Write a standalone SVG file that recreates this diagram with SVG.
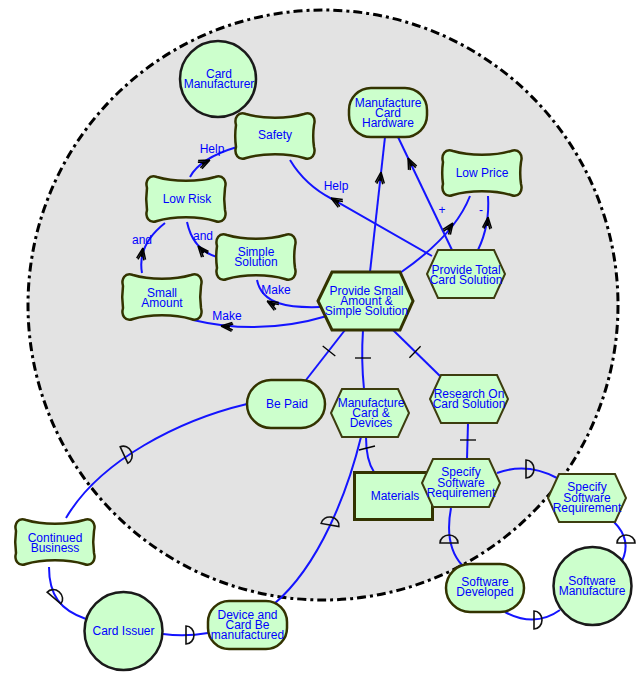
<svg xmlns="http://www.w3.org/2000/svg" xmlns:xlink="http://www.w3.org/1999/xlink" width="644" height="678" viewBox="0 0 644 678">
<style>
.t{font-family:"Liberation Sans",Arial,sans-serif;font-size:12px;fill:#0000ff;text-anchor:middle}
.sg{fill:#ccffcc;stroke:#333300;stroke-width:2.5}
.hx{fill:#ccffcc;stroke:#3d3d0f;stroke-width:2}
.rr{fill:#ccffcc;stroke:#333300;stroke-width:2.5}
.ci{fill:#ccffcc;stroke:#1a1a1a;stroke-width:2.5}
.ln{fill:none;stroke:#1414ff;stroke-width:2}
.ar{fill:none;stroke:#000;stroke-width:1.5}
.dp{fill:none;stroke:#111;stroke-width:1.6}
.tk{stroke:#000;stroke-width:1.3}
</style>
<defs>
<path id="sg" class="sg" d="M10,2 C26,7 52,7 68,2 C76,-1 80,6 78,13 C77,20 77,28 78,35 C80,42 76,49 68,46 C52,41 26,41 10,46 C2,49 -2,42 0,35 C-1,28 -1,20 0,13 C-2,6 2,-1 10,2 Z"/>
<polygon id="hx" class="hx" points="0,24 11,0 67,0 78,24 67,48 11,48"/>
<path id="ar" class="ar" d="M0,0 L-11,-4.5 M0,0 L-11,4.5 M0,0 L-9,0 M-4,0 L-12,-3 M-4,0 L-12,3"/>
<path id="dp" class="dp" d="M0,-9 A8,9 0 0 1 0,9 Z"/>
</defs>
<rect width="644" height="678" fill="#ffffff"/>
<circle id="boundary" cx="323" cy="305" r="295" fill="#e3e3e3" stroke="#000" stroke-width="3" stroke-dasharray="9 4 3 4"/>

<g id="connectors">
<path class="ln" d="M190,177 Q200,158 237,147"/>
<use href="#ar" transform="translate(210,160) rotate(-25)"/>
<text class="t" x="212" y="153">Help</text>

<path class="ln" d="M290,160 Q305,185 332,199 L432,256"/>
<use href="#ar" transform="translate(331,198) rotate(-150)"/>
<text class="t" x="336" y="190">Help</text>

<path class="ln" d="M217,257 Q193,250 187,222"/>
<use href="#ar" transform="translate(198,246) rotate(-130)"/>
<text class="t" x="203" y="240">and</text>

<path class="ln" d="M142,273 Q137,245 165,223"/>
<use href="#ar" transform="translate(143,248) rotate(-80)"/>
<text class="t" x="142" y="244">and</text>

<path class="ln" d="M320,307 C290,308 262,305 257,280"/>
<use href="#ar" transform="translate(267,301) rotate(-150)"/>
<text class="t" x="276" y="294">Make</text>

<path class="ln" d="M327,316 Q260,336 193,320"/>
<use href="#ar" transform="translate(221,326) rotate(-175)"/>
<text class="t" x="227" y="320">Make</text>

<path class="ln" d="M370,272 L385,137"/>
<use href="#ar" transform="translate(381,172) rotate(-84)"/>

<path class="ln" d="M452,250 L398,137"/>
<use href="#ar" transform="translate(408,158) rotate(-115)"/>

<path class="ln" d="M400,273 Q455,235 470,196"/>
<use href="#ar" transform="translate(453,223) rotate(-55)"/>
<text class="t" x="442" y="214">+</text>

<path class="ln" d="M478,250 Q490,225 488,196"/>
<use href="#ar" transform="translate(488,217) rotate(-85)"/>
<text class="t" x="481" y="214">-</text>

<path class="ln" d="M345,330 L306,380"/>
<line class="tk" x1="322.7" y1="346.1" x2="335.3" y2="355.9"/>

<path class="ln" d="M363,330 Q361,360 364,389"/>
<line class="tk" x1="355" y1="358" x2="371" y2="358"/>

<path class="ln" d="M393,330 L440,376"/>
<line class="tk" x1="409.4" y1="357.7" x2="420.6" y2="346.3"/>

<path class="ln" d="M468,423 L467,459"/>
<line class="tk" x1="460" y1="440" x2="476" y2="440"/>

<path class="ln" d="M366,437 Q366,460 374,472"/>
<line class="tk" x1="359" y1="450" x2="375" y2="446"/>

<path class="ln" d="M361,437 C348,490 320,565 274,604"/>
<use href="#dp" transform="translate(330,525) rotate(-80)"/>

<path class="ln" d="M247,404 C180,420 100,460 66,518"/>
<use href="#dp" transform="translate(124,455) rotate(-25)"/>

<path class="ln" d="M49,567 C49,595 60,610 86,619"/>
<use href="#dp" transform="translate(54,598) rotate(-50)"/>

<path class="ln" d="M163,634 Q185,637 208,633"/>
<use href="#dp" transform="translate(186,635)"/>

<path class="ln" d="M497,473 Q527,462 557,478"/>
<use href="#dp" transform="translate(526,469)"/>

<path class="ln" d="M614,522 Q632,540 622,561"/>
<use href="#dp" transform="translate(626,543) rotate(-90)"/>

<path class="ln" d="M451,508 Q444,545 462,565"/>
<use href="#dp" transform="translate(449,543) rotate(-90)"/>

<path class="ln" d="M505,612 Q535,628 560,610"/>
<use href="#dp" transform="translate(534,620)"/>
</g>

<g id="card-manufacturer">
<circle class="ci" cx="218" cy="79" r="38"/>
<text class="t" x="219" y="77.5">Card</text>
<text class="t" x="219" y="87.5">Manufacturer</text>
</g>

<g id="safety">
<use href="#sg" transform="translate(236,112)"/>
<text class="t" x="275" y="138.5">Safety</text>
</g>

<g id="low-risk">
<use href="#sg" transform="translate(147,175)"/>
<text class="t" x="187" y="202.5">Low Risk</text>
</g>

<g id="simple-solution">
<use href="#sg" transform="translate(217,233)"/>
<text class="t" x="256" y="255.5">Simple</text>
<text class="t" x="256" y="266">Solution</text>
</g>

<g id="small-amount">
<use href="#sg" transform="translate(123,273)"/>
<text class="t" x="162" y="297">Small</text>
<text class="t" x="162" y="307">Amount</text>
</g>

<g id="manufacture-card-hardware">
<rect class="rr" x="349" y="88" width="78" height="49" rx="22" ry="22"/>
<text class="t" x="388" y="107">Manufacture</text>
<text class="t" x="388" y="117">Card</text>
<text class="t" x="388" y="127">Hardware</text>
</g>

<g id="low-price">
<use href="#sg" transform="translate(443,149)"/>
<text class="t" x="482" y="177">Low Price</text>
</g>

<g id="provide-total-card-solution">
<use href="#hx" transform="translate(427,250)"/>
<text class="t" x="466" y="273.5">Provide Total</text>
<text class="t" x="466" y="283.5">Card Solution</text>
</g>

<g id="provide-small-amount">
<polygon points="318,301 332,272 400,272 413,301 400,330 332,330" fill="#ccffcc" stroke="#333300" stroke-width="3"/>
<text class="t" x="366.5" y="294.5">Provide Small</text>
<text class="t" x="366.5" y="304.5">Amount &amp;</text>
<text class="t" x="366.5" y="314.5">Simple Solution</text>
</g>

<g id="be-paid">
<rect class="rr" x="247" y="380" width="78" height="48" rx="24" ry="24"/>
<text class="t" x="287" y="407.5">Be Paid</text>
</g>

<g id="manufacture-card-devices">
<use href="#hx" transform="translate(331,389)"/>
<text class="t" x="371" y="407">Manufacture</text>
<text class="t" x="371" y="417">Card &amp;</text>
<text class="t" x="371" y="427">Devices</text>
</g>

<g id="research-on-card-solution">
<use href="#hx" transform="translate(430,375)"/>
<text class="t" x="469" y="397.5">Research On</text>
<text class="t" x="469" y="407.5">Card Solution</text>
</g>

<g id="materials">
<rect x="354.5" y="472.5" width="78" height="47" fill="#ccffcc" stroke="#333300" stroke-width="3"/>
<text class="t" x="395" y="500">Materials</text>
</g>

<g id="specify-software-requirement-1">
<use href="#hx" transform="translate(422,459)"/>
<text class="t" x="461" y="476">Specify</text>
<text class="t" x="461" y="486.5">Software</text>
<text class="t" x="461" y="497">Requirement</text>
</g>

<g id="specify-software-requirement-2">
<use href="#hx" transform="translate(548,474)"/>
<text class="t" x="587" y="491">Specify</text>
<text class="t" x="587" y="501.5">Software</text>
<text class="t" x="587" y="512">Requirement</text>
</g>

<g id="software-developed">
<rect class="rr" x="446" y="564" width="78" height="48" rx="24" ry="24"/>
<text class="t" x="485" y="586">Software</text>
<text class="t" x="485" y="596">Developed</text>
</g>

<g id="software-manufacture">
<circle class="ci" cx="592.5" cy="586" r="39"/>
<text class="t" x="592" y="585">Software</text>
<text class="t" x="592" y="595">Manufacture</text>
</g>

<g id="continued-business">
<use href="#sg" transform="translate(16,518)"/>
<text class="t" x="55" y="541.5">Continued</text>
<text class="t" x="55" y="551.5">Business</text>
</g>

<g id="card-issuer">
<circle class="ci" cx="123.5" cy="631" r="39"/>
<text class="t" x="123.5" y="635">Card Issuer</text>
</g>

<g id="device-card-manufactured">
<rect class="rr" x="208" y="601" width="79" height="48" rx="21" ry="21"/>
<text class="t" x="247.5" y="618.5">Device and</text>
<text class="t" x="247.5" y="628.5">Card Be</text>
<text class="t" x="247.5" y="638.5">manufactured</text>
</g>
</svg>
